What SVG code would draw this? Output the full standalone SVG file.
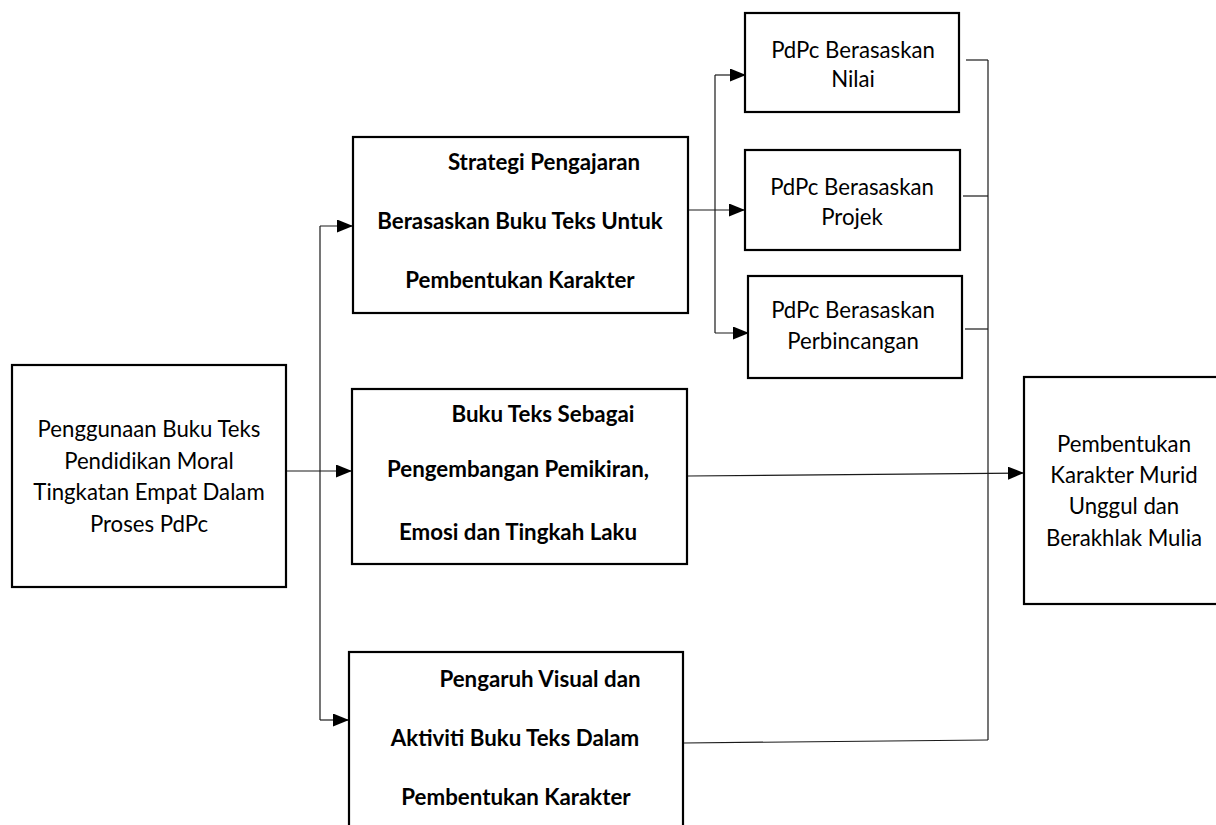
<svg xmlns="http://www.w3.org/2000/svg" width="1216" height="825" viewBox="0 0 1216 825">
<defs>
<style>
.box{fill:#fff;stroke:#000;stroke-width:2.2}
.t{font-family:Lato,"Open Sans","Liberation Sans",sans-serif;font-size:22.2px;fill:#000;text-anchor:middle}
.b{font-weight:bold;font-size:22.3px}
.c{fill:none;stroke:#1a1a1a;stroke-width:1.2}
</style>
<marker id="ah" markerUnits="userSpaceOnUse" viewBox="0 0 16 13" refX="16" refY="6.5" markerWidth="16" markerHeight="13" orient="auto">
<path d="M0,0 L16,6.5 L0,13 z" fill="#000"/>
</marker>
</defs>
<rect width="1216" height="825" fill="#fff"/>
<g id="connectors">
<path class="c" d="M286,471 H352" marker-end="url(#ah)"/>
<path class="c" d="M320,226 V720"/>
<path class="c" d="M320,226 H353" marker-end="url(#ah)"/>
<path class="c" d="M320,720 H349" marker-end="url(#ah)"/>
<path class="c" d="M688,210 H745" marker-end="url(#ah)"/>
<path class="c" d="M715,75 V333"/>
<path class="c" d="M715,75 H746" marker-end="url(#ah)"/>
<path class="c" d="M715,333 H749" marker-end="url(#ah)"/>
<path class="c" d="M966,60 H988"/>
<path class="c" d="M963,196 H988"/>
<path class="c" d="M965,329 H988"/>
<path class="c" d="M988,60 V740"/>
<path class="c" d="M684,743 L988,740"/>
<path class="c" d="M688,476 L1024,473" marker-end="url(#ah)"/>
</g>
<g id="n-input">
<rect class="box" x="12" y="365" width="274" height="222"/>
<text class="t" x="149" y="437">Penggunaan Buku Teks</text>
<text class="t" x="149" y="469">Pendidikan Moral</text>
<text class="t" x="149" y="500">Tingkatan Empat Dalam</text>
<text class="t" x="149" y="532">Proses PdPc</text>
</g>
<g id="n-strategi">
<rect class="box" x="353" y="137" width="335" height="176"/>
<text class="t b" x="544" y="170">Strategi Pengajaran</text>
<text class="t b" x="520" y="229">Berasaskan Buku Teks Untuk</text>
<text class="t b" x="520" y="288">Pembentukan Karakter</text>
</g>
<g id="n-buku">
<rect class="box" x="352" y="389" width="335" height="175"/>
<text class="t b" x="543" y="422">Buku Teks Sebagai</text>
<text class="t b" x="518" y="477">Pengembangan Pemikiran,</text>
<text class="t b" x="518" y="540">Emosi dan Tingkah Laku</text>
</g>
<g id="n-pengaruh">
<rect class="box" x="349" y="652" width="334" height="200"/>
<text class="t b" x="540" y="687">Pengaruh Visual dan</text>
<text class="t b" x="515" y="746">Aktiviti Buku Teks Dalam</text>
<text class="t b" x="516" y="805">Pembentukan Karakter</text>
</g>
<g id="n-nilai">
<rect class="box" x="745" y="13" width="214" height="99"/>
<text class="t" x="853" y="58">PdPc Berasaskan</text>
<text class="t" x="853" y="87">Nilai</text>
</g>
<g id="n-projek">
<rect class="box" x="745" y="150" width="215" height="100"/>
<text class="t" x="852" y="195">PdPc Berasaskan</text>
<text class="t" x="852" y="225">Projek</text>
</g>
<g id="n-perbincangan">
<rect class="box" x="748" y="276" width="214" height="102"/>
<text class="t" x="853" y="318">PdPc Berasaskan</text>
<text class="t" x="853" y="349">Perbincangan</text>
</g>
<g id="n-output">
<rect class="box" x="1024" y="377" width="220" height="227"/>
<text class="t" x="1124" y="452">Pembentukan</text>
<text class="t" x="1124" y="483">Karakter Murid</text>
<text class="t" x="1124" y="514">Unggul dan</text>
<text class="t" x="1124" y="546">Berakhlak Mulia</text>
</g>
</svg>
